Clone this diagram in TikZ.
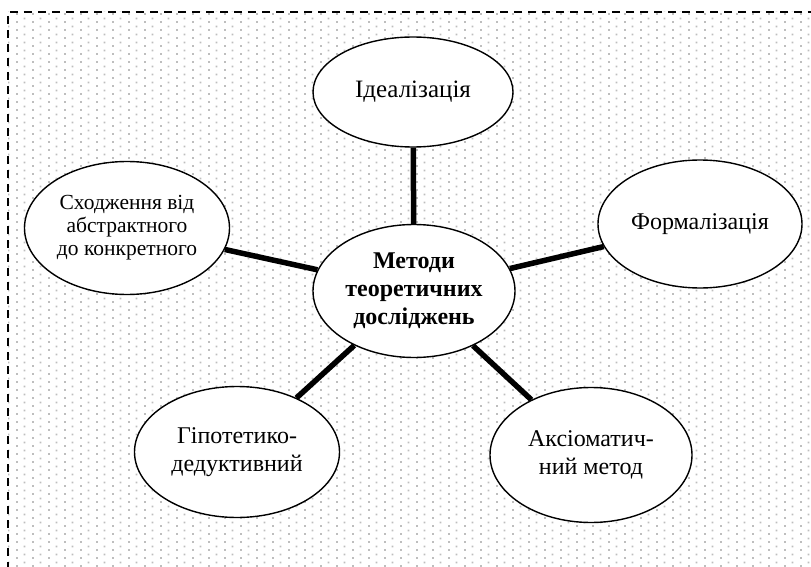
\documentclass[tikz,border=0pt]{standalone}
\usepackage{fontspec}
\setmainfont{Liberation Serif}
\usetikzlibrary{shapes.geometric,patterns}

\definecolor{dotgray}{RGB}{190,190,190}

% staggered dot texture for the panel background
\pgfdeclarepatternformonly{paperdots}{\pgfpointorigin}{\pgfpoint{16pt}{8pt}}{\pgfpoint{16pt}{8pt}}{%
  \pgfpathrectangle{\pgfpoint{0pt}{0pt}}{\pgfpoint{2pt}{2pt}}%
  \pgfpathrectangle{\pgfpoint{8pt}{4pt}}{\pgfpoint{2pt}{2pt}}%
  \pgfusepath{fill}%
}

\begin{document}
\begin{tikzpicture}[x=1pt,y=-1pt,
  topic/.style={ellipse, draw, line width=1.4pt, fill=white, inner sep=0pt,
    align=center, font=\fontsize{24}{28}\selectfont},
  link/.style={line width=5.5pt}]
\useasboundingbox (0,0) rectangle (811,567);
\clip (0,0) rectangle (811,567);

% panel with dotted fill and dashed frame
\fill[pattern=paperdots, pattern color=dotgray] (8,12) rectangle (830,590);
\draw[dash pattern=on 8pt off 6pt, line width=2pt] (830,12) -- (8,12) -- (8,590);

% central topic
\node[topic, minimum width=202pt, minimum height=133pt,
  font=\bfseries\fontsize{24}{28}\selectfont] (c) at (414,291)
  {Методи\\теоретичних\\досліджень};

% surrounding methods
\node[topic, minimum width=200pt, minimum height=110pt,
  font=\fontsize{25}{28}\selectfont] (ideal) at (413,92) {Ідеалізація};
\node[topic, minimum width=204pt, minimum height=128pt] (formal) at (700,224) {Формалізація};
\node[topic, minimum width=205pt, minimum height=133pt,
  font=\fontsize{21.5}{23}\selectfont] (abstr) at (127,228)
  {Сходження від\\абстрактного\\до конкретного};
\node[topic, minimum width=205pt, minimum height=131pt] (hypo) at (237,452)
  {Гіпотетико-\\дедуктивний};
\node[topic, minimum width=202pt, minimum height=135pt] (axiom) at (591,455)
  {Аксіоматич-\\ний метод};

% links from the centre
\draw[link] (c) -- (ideal);
\draw[link] (c) -- (formal);
\draw[link] (c) -- (abstr);
\draw[link] (c) -- (hypo);
\draw[link] (c) -- (axiom);
\end{tikzpicture}
\end{document}
